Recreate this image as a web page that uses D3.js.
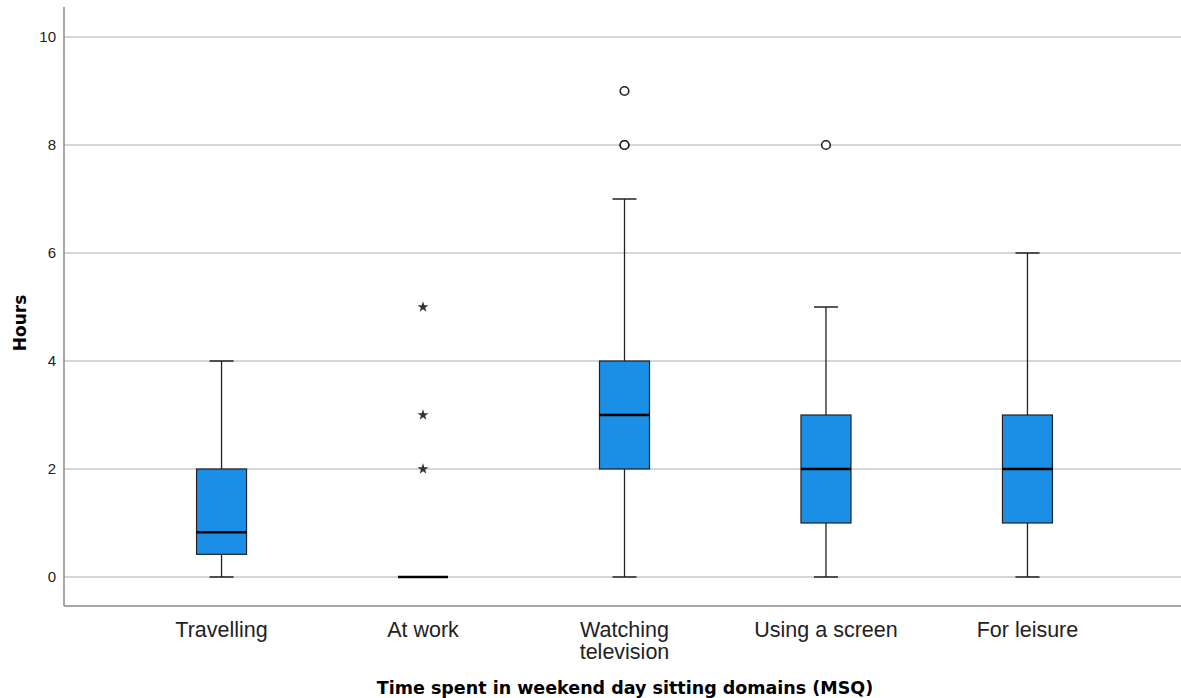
<!DOCTYPE html>
<html>
<head>
<meta charset="utf-8">
<script src="https://cdn.jsdelivr.net/npm/d3@7"></script>
<style>
  body { margin: 0; background: #fff; }
  svg { display: block; }
</style>
</head>
<body>
<svg id="chart" width="1181" height="698"></svg>
<script>
// ---- Data ----
const categories = ["Travelling", "At work", "Watching television", "Using a screen", "For leisure"];
const categoryLines = [["Travelling"], ["At work"], ["Watching", "television"], ["Using a screen"], ["For leisure"]];
const whiskerLow  = [0,    0, 0, 0, 0];
const q1          = [0.42, 0, 2, 1, 1];
const median      = [0.83, 0, 3, 2, 2];
const q3          = [2,    0, 4, 3, 3];
const whiskerHigh = [4,    0, 7, 5, 6];
// outliers (circles) and extremes (stars)
const outlierCat = ["Watching television", "Watching television", "Watching television", "Using a screen"];
const outlierVal = [8, 8, 9, 8];
const extremeCat = ["At work", "At work", "At work"];
const extremeVal = [2, 3, 5];
const yTicks = [0, 2, 4, 6, 8, 10];
const xTitle = "Time spent in weekend day sitting domains (MSQ)";
const yTitle = "Hours";

// ---- Layout ----
const svg = d3.select("#chart");
const plotL = 64, plotR = 1181, plotT = 7, plotB = 606;

const x = d3.scalePoint().domain(categories).range([plotL + 2, plotR + 2]).padding(0.772);
const y = d3.scaleLinear().domain([0, 10]).range([577, 37]);

const boxW = 50, capW = 24;
const boxFill = "#1b8fe6";
const ink = "#222";

// gridlines
svg.append("g")
  .selectAll("line").data(yTicks).join("line")
  .attr("x1", plotL).attr("x2", plotR)
  .attr("y1", d => y(d)).attr("y2", d => y(d))
  .attr("stroke", "#c9c9c9").attr("stroke-width", 1.5);

// y axis
const yAxis = svg.append("g")
  .attr("transform", `translate(${plotL},0)`)
  .call(d3.axisLeft(y).tickValues(yTicks).tickSize(0).tickPadding(8).tickFormat(d3.format("d")));
yAxis.select(".domain").remove();
yAxis.selectAll("text")
  .attr("font-family", "Liberation Sans, Arial, sans-serif")
  .attr("font-size", 15).attr("fill", "#222");

// axis lines
svg.append("line").attr("x1", plotL).attr("x2", plotL).attr("y1", plotT).attr("y2", plotB)
  .attr("stroke", "#8a8a8a").attr("stroke-width", 1.5);
svg.append("line").attr("x1", plotL).attr("x2", plotR).attr("y1", plotB).attr("y2", plotB)
  .attr("stroke", "#8a8a8a").attr("stroke-width", 1.5);

// x axis labels
const xl = svg.append("g");
categories.forEach((c, i) => {
  const t = xl.append("text")
    .attr("x", x(c)).attr("y", 637)
    .attr("text-anchor", "middle")
    .attr("font-family", "Liberation Sans, Arial, sans-serif")
    .attr("font-size", 21.5).attr("fill", "#222");
  categoryLines[i].forEach((ln, j) => {
    t.append("tspan").attr("x", x(c)).attr("dy", j === 0 ? 0 : 22).text(ln);
  });
});

// titles
svg.append("text")
  .attr("x", 625).attr("y", 694)
  .attr("text-anchor", "middle")
  .attr("font-family", "DejaVu Sans, Verdana, sans-serif")
  .attr("font-weight", "bold").attr("font-size", 17.5).attr("fill", "#000")
  .text(xTitle);
svg.append("text")
  .attr("transform", `translate(26,323) rotate(-90)`)
  .attr("text-anchor", "middle")
  .attr("font-family", "DejaVu Sans, Verdana, sans-serif")
  .attr("font-weight", "bold").attr("font-size", 17).attr("fill", "#000")
  .text(yTitle);

// boxes
const g = svg.append("g");
categories.forEach((c, i) => {
  const cx = x(c);
  if (whiskerHigh[i] > q3[i]) {
    g.append("line").attr("x1", cx).attr("x2", cx).attr("y1", y(q3[i])).attr("y2", y(whiskerHigh[i]))
      .attr("stroke", ink).attr("stroke-width", 1.3);
    g.append("line").attr("x1", cx - capW / 2).attr("x2", cx + capW / 2)
      .attr("y1", y(whiskerHigh[i])).attr("y2", y(whiskerHigh[i]))
      .attr("stroke", ink).attr("stroke-width", 1.5);
  }
  if (whiskerLow[i] < q1[i]) {
    g.append("line").attr("x1", cx).attr("x2", cx).attr("y1", y(q1[i])).attr("y2", y(whiskerLow[i]))
      .attr("stroke", ink).attr("stroke-width", 1.3);
    g.append("line").attr("x1", cx - capW / 2).attr("x2", cx + capW / 2)
      .attr("y1", y(whiskerLow[i])).attr("y2", y(whiskerLow[i]))
      .attr("stroke", ink).attr("stroke-width", 1.5);
  }
  if (q3[i] > q1[i]) {
    g.append("rect")
      .attr("x", cx - boxW / 2).attr("width", boxW)
      .attr("y", y(q3[i])).attr("height", y(q1[i]) - y(q3[i]))
      .attr("fill", boxFill).attr("stroke", ink).attr("stroke-width", 1.2);
  }
  g.append("line").attr("x1", cx - boxW / 2).attr("x2", cx + boxW / 2)
    .attr("y1", y(median[i])).attr("y2", y(median[i]))
    .attr("stroke", "#000").attr("stroke-width", 2.6);
});

// outliers
g.selectAll("circle.out").data(outlierVal.map((v, i) => ({ c: outlierCat[i], v })))
  .join("circle").attr("class", "out")
  .attr("cx", d => x(d.c)).attr("cy", d => y(d.v)).attr("r", 4.3)
  .attr("fill", "#fff").attr("stroke", ink).attr("stroke-width", 1.6);

// extremes
g.selectAll("path.ext").data(extremeVal.map((v, i) => ({ c: extremeCat[i], v })))
  .join("path").attr("class", "ext")
  .attr("transform", d => `translate(${x(d.c)},${y(d.v)})`)
  .attr("d", d3.symbol().type(d3.symbolStar).size(38))
  .attr("fill", "#333");
</script>
</body>
</html>
